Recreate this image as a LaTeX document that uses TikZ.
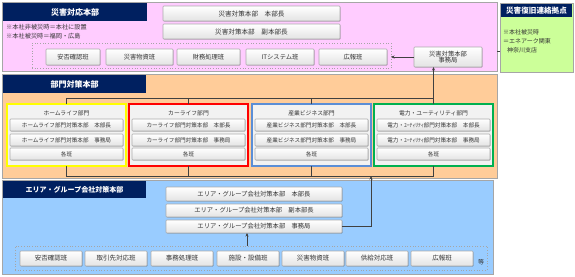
\documentclass[tikz,border=0pt]{standalone}
\usepackage{fontspec}
\setmainfont{Noto Sans CJK JP}
\usetikzlibrary{arrows.meta,calc,shadows}
\newcommand{\fsz}[1]{\fontsize{#1}{#1}\selectfont}
\definecolor{navy}{HTML}{002060}
\definecolor{pinkbg}{HTML}{FFCCFF}
\definecolor{orangebg}{HTML}{FFCC99}
\definecolor{bluebg}{HTML}{99CCFF}
\definecolor{greenbg}{HTML}{CCFF99}
\definecolor{deptbg}{HTML}{F2F2F2}
\definecolor{conncol}{HTML}{404040}
\definecolor{txtcol}{HTML}{333333}
\definecolor{dyellow}{HTML}{FFFF00}
\definecolor{dred}{HTML}{FF0000}
\definecolor{dblue}{HTML}{5B8ED6}
\definecolor{dgreen}{HTML}{00B050}
\tikzset{
  zone/.style={draw=gray!70, line width=0.8pt, anchor=north west, inner sep=0, outer sep=0},
  hdr/.style={fill=navy, text=white, anchor=north west, inner sep=0, outer sep=0, font=\bfseries\fsz{8}},
  btn/.style={draw=gray!65, line width=0.6pt, top color=white, bottom color=gray!22, rounded corners=0.8pt,
    anchor=north west, inner sep=0, outer sep=0, align=center, text=txtcol, font=\fsz{6.3},
    drop shadow={shadow xshift=0.6pt, shadow yshift=-0.6pt, opacity=0.25, fill=black}},
  banbox/.style={draw=gray!70, dotted, line width=0.7pt, anchor=north west, inner sep=0, outer sep=0},
  deptbox/.style={fill=deptbg, line width=1.1pt, anchor=north west, inner sep=0, outer sep=0},
  conn/.style={draw=conncol, line width=0.9pt},
  arr/.style={conn, -{Stealth[length=3.5pt,width=3pt]}},
}
\newcommand{\dept}[6]{%
  \node[deptbox, draw=#3, minimum width=119, minimum height=62] (#1) at (#2,104) {};
  \node[font=\fsz{5.8}, text=txtcol, inner sep=0] (#1t) at ($(#1.north)+(0,9)$) {#4};
  \node[btn, minimum width=113, minimum height=12, font=\fsz{5.6}] (#1a) at (#2+3,119) {#5};
  \node[btn, minimum width=113, minimum height=12, font=\fsz{5.6}] (#1b) at (#2+3,134) {#6};
  \node[btn, minimum width=113, minimum height=12, font=\fsz{5.6}] (#1c) at (#2+3,148) {各班};
}
\begin{document}
\begin{tikzpicture}[x=1pt,y=-1pt]
\useasboundingbox[fill=white] (0,0) rectangle (575,276);
% ---------- pink zone
\node[zone, fill=pinkbg, minimum width=495, minimum height=69] (pink) at (2,2) {};
\node[hdr, minimum width=144, minimum height=18] (h1) at (3,3) {災害対応本部};
\node[anchor=north west, align=left, inner sep=0, text=txtcol, font=\fsz{6.2}] (notes) at (6,24)
  {※本社非被災時＝本社に設置\\[2.5pt]※本社被災時＝福岡・広島};
\node[btn, minimum width=177, minimum height=15, font=\fsz{6.6}] (top1) at (163,6) {災害対策本部　本部長};
\node[btn, minimum width=177, minimum height=15, font=\fsz{6.6}] (top2) at (163,24) {災害対策本部　副本部長};
\node[banbox, minimum width=359, minimum height=25] (pban) at (32,43) {};
\node[btn, minimum width=54, minimum height=16] (p1) at (46,49) {安否確認班};
\node[btn, minimum width=67, minimum height=16] (p2) at (106,49) {災害物資班};
\node[btn, minimum width=63, minimum height=16] (p3) at (177,49) {財務処理班};
\node[btn, minimum width=68, minimum height=16] (p4) at (246,49) {ITシステム班};
\node[btn, minimum width=68, minimum height=16] (p5) at (319,49) {広報班};
\node[btn, minimum width=68, minimum height=20, font=\fsz{6.3}] (sjimu) at (414,47) {災害対策本部\\[-0.5pt]事務局};
% ---------- green zone
\node[zone, fill=greenbg, minimum width=73, minimum height=69] (green) at (500,3) {};
\node[hdr, minimum width=71, minimum height=13, font=\bfseries\fsz{7.6}] (h4) at (501,4) {災害復旧連絡拠点};
\node[anchor=north west, align=left, inner sep=0, text=txtcol, font=\fsz{6}] (gnote) at (503,29)
  {※本社被災時\\[3pt]＝エネアーク関東\\[3pt]\hspace*{4pt}神奈川支店};
\coordinate (gcon) at (0,51);
\draw[conn] (pink.east |- gcon) -- (green.west |- gcon);
% ---------- orange zone
\node[zone, fill=orangebg, minimum width=495, minimum height=104] (orange) at (2,74) {};
\node[hdr, minimum width=143, minimum height=18] (h2) at (3,75) {部門対策本部};
\dept{d1}{7}{dyellow}{ホームライフ部門}{ホームライフ部門対策本部　本部長}{ホームライフ部門対策本部　事務局}
\dept{d2}{129}{dred}{カーライフ部門}{カーライフ部門対策本部　本部長}{カーライフ部門対策本部　事務局}
\dept{d3}{252}{dblue}{産業ビジネス部門}{産業ビジネス部門対策本部　本部長}{産業ビジネス部門対策本部　事務局}
\dept{d4}{374}{dgreen}{電力・ユーティリティ部門}{電力・ﾕｰﾃｨﾘﾃｨ部門対策本部　本部長}{電力・ﾕｰﾃｨﾘﾃｨ部門対策本部　事務局}
\coordinate (tb) at (0,98);
\coordinate (bb) at (0,176);
\draw[conn] (d1.north) -- (d1.north |- tb) -- (d4.north |- tb);
\draw[conn] (d2.north) -- (d2.north |- tb);
\draw[conn] (d3.north) -- (d3.north |- tb);
\draw[arr] (d4.north) -- (d4.north |- sjimu.south);
\draw[arr] (sjimu.west) -- (sjimu.west -| pban.east);
\draw[conn] (d1.south) -- (d1.south |- bb) -- (d4.south |- bb);
\draw[conn] (d2.south) -- (d2.south |- bb);
\draw[conn] (d3.south) -- (d3.south |- bb);
\draw[conn] (d4.south) -- (d4.south |- bb);
% ---------- blue zone
\node[zone, fill=bluebg, minimum width=491, minimum height=94] (blue) at (2,180) {};
\node[hdr, minimum width=143, minimum height=17, font=\bfseries\fsz{7}] (h3) at (3,181) {エリア・グループ会社対策本部};
\node[btn, minimum width=176, minimum height=14] (a1) at (166,187) {エリア・グループ会社対策本部　本部長};
\node[btn, minimum width=176, minimum height=13] (a2) at (166,204) {エリア・グループ会社対策本部　副本部長};
\node[btn, minimum width=176, minimum height=13] (a3) at (166,220) {エリア・グループ会社対策本部　事務局};
\coordinate (up) at (371,0);
\draw[arr] (a3.east) -- (a3.east -| up) -- (up |- bb);
\node[banbox, minimum width=472, minimum height=24] (ban) at (15,246) {};
\node[btn, minimum width=62, minimum height=15, font=\fsz{6.5}] (b1) at (20,251) {安否確認班};
\node[btn, minimum width=62, minimum height=15, font=\fsz{6.5}] (b2) at (85,251) {取引先対応班};
\node[btn, minimum width=62, minimum height=15, font=\fsz{6.5}] (b3) at (151,251) {事務処理班};
\node[btn, minimum width=62, minimum height=15, font=\fsz{6.5}] (b4) at (217,251) {施設・設備班};
\node[btn, minimum width=62, minimum height=15, font=\fsz{6.5}] (b5) at (282,251) {災害物資班};
\node[btn, minimum width=62, minimum height=15, font=\fsz{6.5}] (b6) at (346,251) {供給対応班};
\node[btn, minimum width=62, minimum height=15, font=\fsz{6.5}] (b7) at (411,251) {広報班};
\node[inner sep=0, text=txtcol, font=\fsz{6}] (etc) at (481,262) {等};
\coordinate (aup) at (247,0);
\draw[arr] (ban.north -| aup) -- (a3.south -| aup);
\end{tikzpicture}
\end{document}
